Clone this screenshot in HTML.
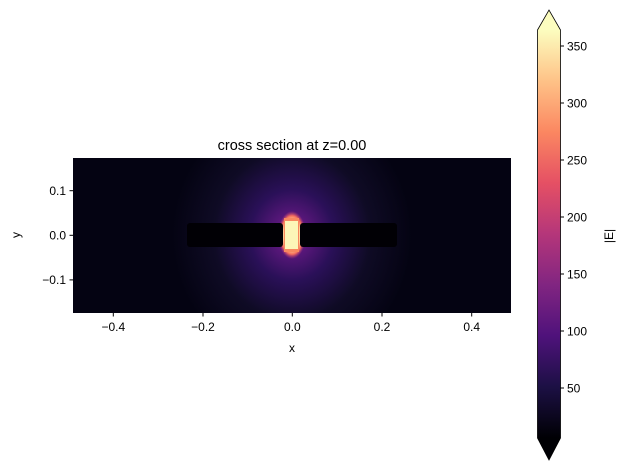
<!DOCTYPE html>
<html><head><meta charset="utf-8"><style>
body{margin:0;background:#fff;}
svg text{font-family:"Liberation Sans","DejaVu Sans",sans-serif;fill:#000;}
</style></head><body>
<svg width="626" height="470" viewBox="0 0 626 470" xmlns="http://www.w3.org/2000/svg">
<defs>
<radialGradient id="glow" cx="292" cy="235" r="1" gradientUnits="userSpaceOnUse" gradientTransform="translate(292 235) scale(120 130) translate(-292 -235)">
<stop offset="0" stop-color="#8c2981"/>
<stop offset="0.12" stop-color="#5f187f"/>
<stop offset="0.35" stop-color="#2a1058"/>
<stop offset="0.65" stop-color="#0f0b25"/>
<stop offset="1" stop-color="#040312"/>
</radialGradient>
<radialGradient id="hot" cx="292" cy="235" r="1" gradientUnits="userSpaceOnUse" gradientTransform="translate(292 235) scale(14 24) translate(-292 -235)">
<stop offset="0" stop-color="#fcfdbf"/>
<stop offset="0.6" stop-color="#fed395"/>
<stop offset="0.8" stop-color="#f7705c"/>
<stop offset="1" stop-color="#b73779" stop-opacity="0"/>
</radialGradient>
<linearGradient id="cb" x1="0" y1="1" x2="0" y2="0">
<stop offset="0" stop-color="#000004"/>
<stop offset="0.125" stop-color="#1c1044"/>
<stop offset="0.25" stop-color="#4f127b"/>
<stop offset="0.375" stop-color="#812581"/>
<stop offset="0.5" stop-color="#b5367a"/>
<stop offset="0.625" stop-color="#e55064"/>
<stop offset="0.75" stop-color="#fb8761"/>
<stop offset="0.875" stop-color="#fec287"/>
<stop offset="1" stop-color="#fcfdbf"/>
</linearGradient>
<clipPath id="ax"><rect x="73" y="158" width="438" height="155"/></clipPath>
</defs>
<text x="292" y="150" font-size="14.5" text-anchor="middle">cross section at z=0.00</text>
<g clip-path="url(#ax)">
<rect x="73" y="158" width="438" height="155" fill="#030210"/>
<rect x="73" y="158" width="438" height="155" fill="url(#glow)"/>
<rect x="270" y="200" width="44" height="70" fill="url(#hot)"/>
<rect x="187" y="223" width="96" height="24" rx="3" fill="#010005"/>
<rect x="300" y="223" width="97" height="24" rx="3" fill="#010005"/>
<rect x="284" y="218" width="15" height="34" fill="#f8885f"/>
<rect x="285" y="221" width="13" height="28" fill="#fcf6b8"/>
</g>
<g font-size="12" stroke="#000">
<line x1="113.3" y1="313" x2="113.3" y2="316.5"/><line x1="203" y1="313" x2="203" y2="316.5"/><line x1="292.3" y1="313" x2="292.3" y2="316.5"/><line x1="382" y1="313" x2="382" y2="316.5"/><line x1="471.7" y1="313" x2="471.7" y2="316.5"/>
<line x1="69.5" y1="190.7" x2="73" y2="190.7"/><line x1="69.5" y1="235.3" x2="73" y2="235.3"/><line x1="69.5" y1="279.9" x2="73" y2="279.9"/>
</g>
<g font-size="12" text-anchor="middle">
<text x="113.3" y="331">−0.4</text><text x="203" y="331">−0.2</text><text x="292.3" y="331">0.0</text><text x="382" y="331">0.2</text><text x="471.7" y="331">0.4</text>
<text x="292" y="352">x</text>
</g>
<g font-size="12" text-anchor="end">
<text x="66" y="195">0.1</text><text x="66" y="239.5">0.0</text><text x="66" y="284">−0.1</text>
</g>
<text x="20" y="235" font-size="12" text-anchor="middle" transform="rotate(-90 20 235)">y</text>
<polygon points="537.5,30 549,10 560.5,30" fill="#fcfdbf"/>
<polygon points="537.5,438 549,460 560.5,438" fill="#000004"/>
<rect x="537.5" y="30" width="23" height="408" fill="url(#cb)"/>
<polygon points="537.5,30 549,10 560.5,30 560.5,438 549,460 537.5,438" fill="none" stroke="#000" stroke-width="0.8"/>
<g stroke="#000">
<line x1="560.5" y1="46" x2="564" y2="46"/><line x1="560.5" y1="103" x2="564" y2="103"/><line x1="560.5" y1="160" x2="564" y2="160"/><line x1="560.5" y1="217" x2="564" y2="217"/><line x1="560.5" y1="274" x2="564" y2="274"/><line x1="560.5" y1="331" x2="564" y2="331"/><line x1="560.5" y1="388" x2="564" y2="388"/>
</g>
<g font-size="12">
<text x="567" y="50.5">350</text><text x="567" y="107.5">300</text><text x="567" y="164.5">250</text><text x="567" y="221.5">200</text><text x="567" y="278.5">150</text><text x="567" y="335.5">100</text><text x="567" y="392.5">50</text>
</g>
<text x="613" y="236" font-size="12" text-anchor="middle" transform="rotate(-90 613 236)">|E|</text>
</svg>
</body></html>
